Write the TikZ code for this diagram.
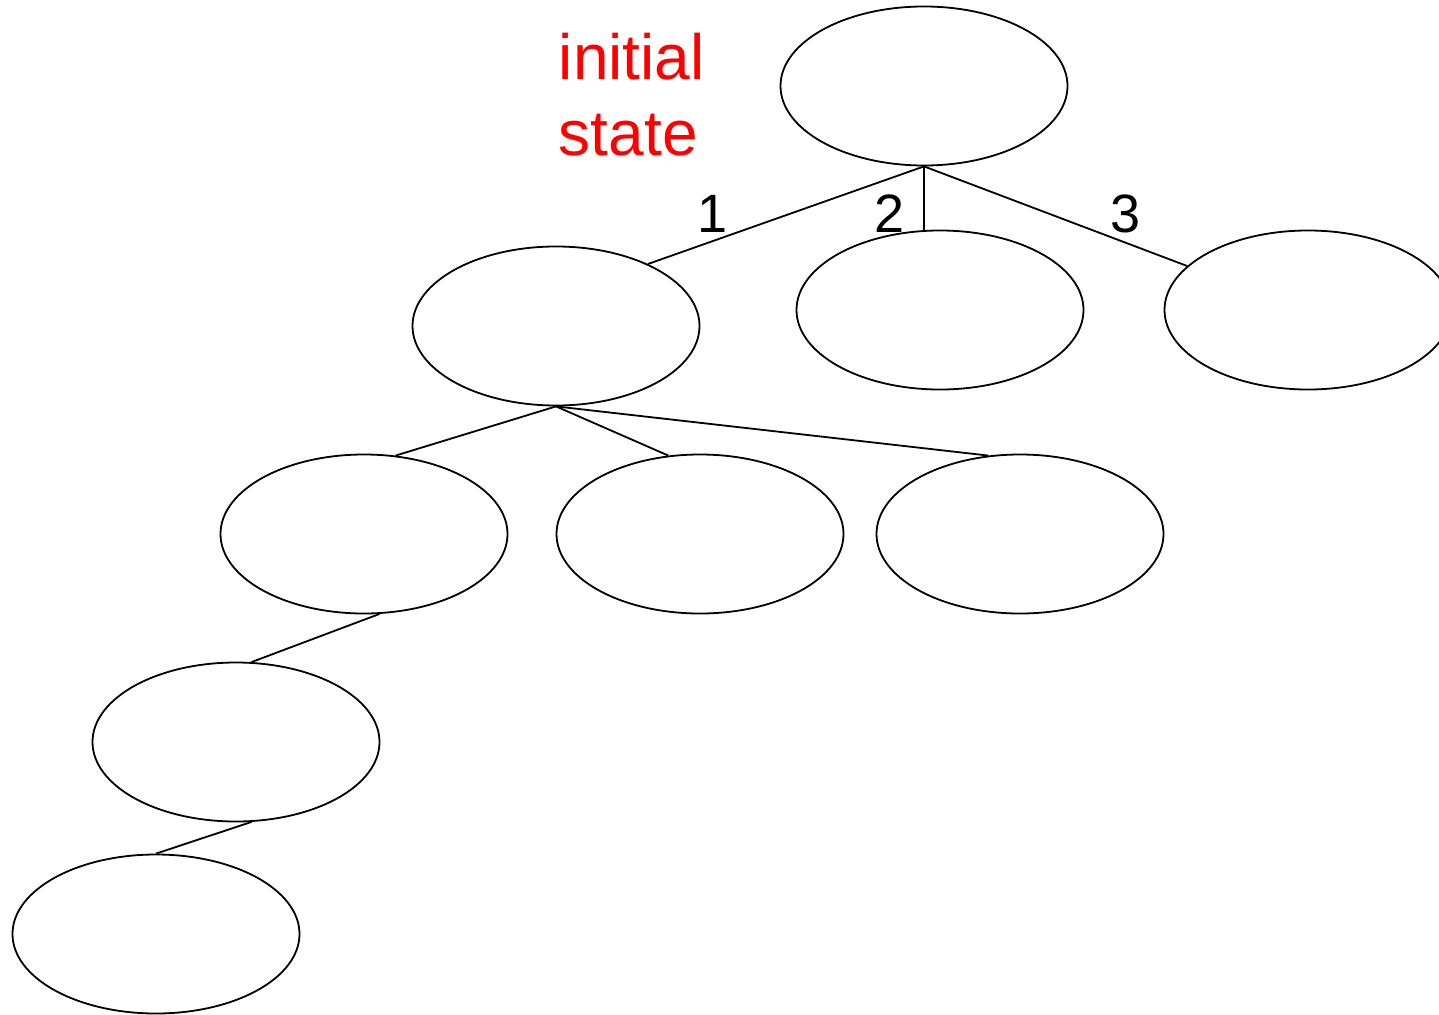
\documentclass[tikz,border=0pt]{standalone}
\usepackage{fontspec}
\setmainfont{Liberation Sans}
\usetikzlibrary{shapes.geometric}
\begin{document}
\begin{tikzpicture}[x=1pt,y=-1pt,line width=1.8pt,
  stnode/.style={draw,ellipse,minimum width=287pt,minimum height=159pt,inner sep=0pt},
  lbl/.style={font=\fontsize{54}{60}\selectfont,inner sep=0pt}]
\useasboundingbox (0,0) rectangle (1439,1014);

% states
\foreach \n/\x/\y in {root/924/86,a/556/326,b/940/310,c/1308/310,
  d/364/534,e/700/534,f/1020/534,g/236/742,h/156/934}
\node[stnode] (\n) at (\x,\y) {};

% moves
\foreach \s/\t in {root.south/a.34,root.south/c.160,
  a.south/d.68,a.south/e.112,a.south/f.112,d.281/g.79,g.281/h.north}
\draw (\s) -- (\t);
\draw (root.south) -- (root.south |- b.north);

\node[lbl] (l1) at (713,214) {1};
\node[lbl] (l2) at (890,214) {2};
\node[lbl] (l3) at (1125,214) {3};

\node[text=red,align=left,anchor=base west,inner sep=0pt,
  font=\fontsize{64}{76}\selectfont] (init) at (558,155) {initial\\state};
\end{tikzpicture}
\end{document}
